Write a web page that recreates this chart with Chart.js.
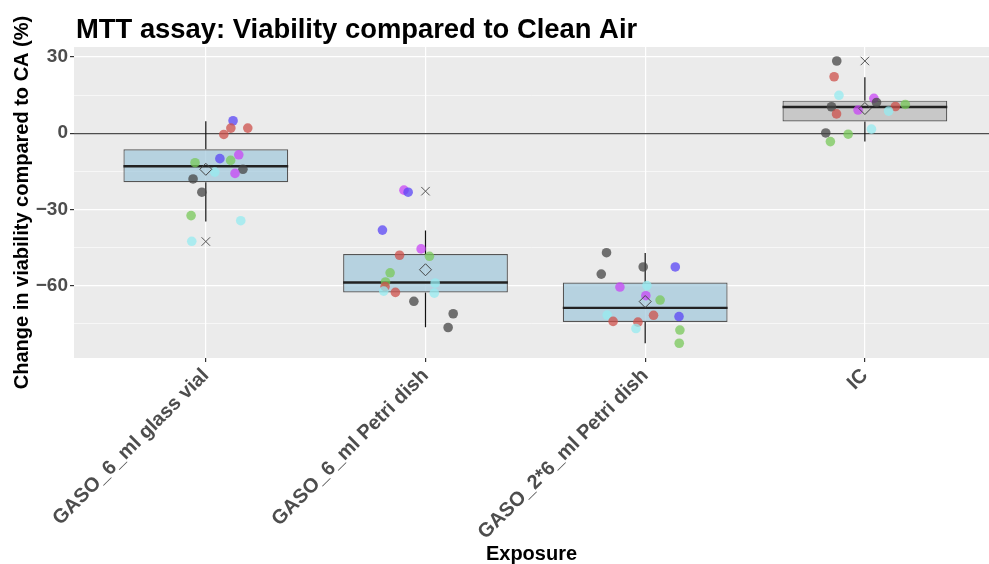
<!DOCTYPE html>
<html>
<head>
<meta charset="utf-8">
<script src="https://cdn.jsdelivr.net/npm/chart.js@4.4.1/dist/chart.umd.min.js"></script>
<style>
  html, body { margin: 0; padding: 0; background: #fff; }
  #wrap { width: 989px; height: 564px; position: relative; }
</style>
</head>
<body>
<div id="wrap"><canvas id="myChart"></canvas></div>
<script>
// categories and y ticks
const categories = ['GASO_6_ml glass vial', 'GASO_6_ml Petri dish', 'GASO_2*6_ml Petri dish', 'IC']
const yTicks = [-75, -60, -45, -30, -15, 0, 15, 30]

// box stats
const q1 = [-19.3, -62.6, -74.2, 4.6]
const median = [-13.0, -58.7, -68.7, 10.3]
const q3 = [-6.3, -47.5, -58.7, 12.8]
const whiskerLo = [-34.7, -76.3, -82.6, -3.3]
const whiskerHi = [4.7, -38.3, -47.1, 22.0]
const meanVal = [-14.2, -53.7, -66.2, 9.7]
const boxFill = ['rgba(160,200,220,0.7)', 'rgba(160,200,220,0.7)', 'rgba(160,200,220,0.7)', 'rgba(185,185,185,0.7)']

// the x marks
const crossGroup = [1, 2, 4]
const crossVal = [-42.6, -22.8, 28.4]

// jittered points: group, offset from category, value, colour key
const ptGroup = [
    1,1,1,1,1,1,1,1,1,1,1,1,1,1,1,1,
    2,2,2,2,2,2,2,2,2,2,2,2,2,2,2,2,
    3,3,3,3,3,3,3,3,3,3,3,3,3,3,3,3,
    4,4,4,4,4,4,4,4,4,4,4,4,4,4,4
]
const ptOffset = [
    0.124, 0.114, 0.191, 0.082, 0.150, 0.113, 0.064, -0.049, 0.169, 0.041, 0.133, -0.058, -0.018, -0.067, 0.159, -0.064,
    -0.098, -0.079, -0.196, -0.020, -0.118, 0.018, -0.161, -0.182, -0.184, -0.190, -0.137, 0.044, 0.040, -0.053, 0.126, 0.103,
    -0.176, -0.009, 0.137, -0.200, 0.008, -0.115, 0.003, 0.068, -0.173, 0.038, 0.154, -0.146, -0.033, -0.042, 0.158, 0.155,
    -0.128, -0.140, -0.118, 0.041, 0.053, 0.184, 0.139, -0.152, -0.031, 0.108, -0.129, 0.030, -0.178, -0.076, -0.157
]
const ptValue = [
    4.9, 2.0, 2.0, -0.5, -8.5, -10.7, -10.0, -11.6, -14.2, -15.3, -15.8, -18.0, -23.2, -32.4, -34.4, -42.5,
    -22.4, -23.2, -38.1, -45.5, -48.0, -48.4, -54.9, -58.5, -60.3, -62.1, -62.6, -58.9, -62.9, -66.1, -71.0, -76.4,
    -47.0, -52.6, -52.6, -55.4, -59.9, -60.5, -63.9, -65.6, -71.5, -71.6, -72.1, -74.0, -74.3, -76.8, -77.4, -82.6,
    28.4, 22.2, 14.9, 13.7, 12.1, 11.3, 10.5, 10.4, 9.1, 8.7, 7.6, 1.6, 0.1, -0.4, -3.3
]
const ptColor = [
    'B','R','R','R','M','G','B','G','K','C','M','K','K','G','C','C',
    'M','B','B','M','R','G','G','G','R','C','R','C','C','K','K','K',
    'K','K','B','K','C','M','M','G','C','R','B','R','R','C','G','G',
    'K','R','C','M','K','G','R','K','M','C','R','C','K','G','G'
]

const palette = {
    R: 'rgba(205,80,75,0.75)',
    G: 'rgba(120,200,90,0.75)',
    C: 'rgba(150,235,240,0.75)',
    B: 'rgba(90,70,245,0.75)',
    M: 'rgba(200,70,245,0.75)',
    K: 'rgba(70,70,70,0.75)'
}

const FONT = "'Liberation Sans', Arial, Helvetica, sans-serif"
const idx = categories.map((c, i) => i + 1)
const fmt = v => (v < 0 ? '\u2212' + Math.abs(v) : String(v))

let whiskerData = []
idx.forEach((x, i) => {
    whiskerData.push({x: x, y: whiskerHi[i]}, {x: x, y: q3[i]}, {x: x, y: null},
                     {x: x, y: q1[i]}, {x: x, y: whiskerLo[i]}, {x: x, y: null})
})

const panelBg = {
    id: 'panelBg',
    beforeDraw(chart) {
        const {ctx, chartArea: a} = chart
        ctx.save()
        ctx.fillStyle = '#ebebeb'
        ctx.fillRect(a.left, a.top, a.right - a.left, a.bottom - a.top)
        ctx.restore()
    },
    afterDraw(chart) {
        const {ctx, chartArea: a} = chart
        ctx.save()
        ctx.fillStyle = '#000'
        ctx.font = 'bold 27.4px ' + FONT
        ctx.textBaseline = 'alphabetic'
        ctx.fillText('MTT assay: Viability compared to Clean Air', a.left + 2, 38)
        ctx.restore()
    }
}

const halfBox = (c) => {
    const s = c.chart.scales.x
    return s.getPixelForValue(1.375) - s.getPixelForValue(1)
}

const ctx = document.getElementById('myChart')

const chart = new Chart(ctx, {
    type: 'bar',
    data: {
        datasets: [
            {
                type: 'scatter',
                order: 0,
                data: idx.map((x, i) => ({x: x, y: meanVal[i]})),
                pointStyle: 'rectRot',
                radius: 6,
                borderColor: '#444',
                borderWidth: 1,
                backgroundColor: 'rgba(0,0,0,0)'
            },
            {
                type: 'scatter',
                order: 0,
                data: crossGroup.map((g, i) => ({x: g, y: crossVal[i]})),
                pointStyle: 'crossRot',
                radius: 6,
                borderColor: '#555',
                borderWidth: 1
            },
            {
                type: 'scatter',
                order: 1,
                data: ptValue.map((v, i) => ({x: ptGroup[i] + ptOffset[i], y: v})),
                radius: 4.8,
                borderWidth: 0,
                backgroundColor: ptColor.map(k => palette[k])
            },
            {
                type: 'scatter',
                order: 2,
                data: idx.map((x, i) => ({x: x, y: median[i]})),
                pointStyle: 'line',
                radius: halfBox,
                borderColor: '#222',
                borderWidth: 2.4
            },
            {
                type: 'bar',
                order: 3,
                data: idx.map((x, i) => ({x: x, y: [q1[i], q3[i]]})),
                backgroundColor: boxFill,
                borderColor: '#555',
                borderWidth: 1.2,
                borderSkipped: false,
                barPercentage: 0.75,
                categoryPercentage: 1
            },
            {
                type: 'line',
                order: 4,
                data: whiskerData,
                borderColor: '#111',
                borderWidth: 1.2,
                pointRadius: 0,
                spanGaps: false
            }
        ]
    },
    plugins: [panelBg],
    options: {
        responsive: true,
        maintainAspectRatio: false,
        animation: false,
        layout: { autoPadding: false, padding: { top: 47, left: 0, right: 0, bottom: 0 } },
        plugins: {
            legend: { display: false },
            tooltip: { enabled: false }
        },
        scales: {
            x: {
                type: 'linear',
                min: 0.4,
                max: 4.565,
                offset: false,
                afterBuildTicks: s => { s.ticks = idx.map(v => ({value: v})) },
                afterFit: s => { s.height = 206; s.paddingLeft = 0; s.paddingRight = 0 },
                border: { display: false },
                grid: { color: '#fff', lineWidth: 1.2, tickColor: '#333', tickLength: 4, offset: false },
                ticks: {
                    autoSkip: false,
                    minRotation: 45,
                    maxRotation: 45,
                    padding: 2,
                    color: '#4d4d4d',
                    font: { family: FONT, size: 20, weight: 'bold' },
                    callback: v => categories[v - 1]
                },
                title: {
                    display: true,
                    text: 'Exposure',
                    color: '#000',
                    font: { family: FONT, size: 20, weight: 'bold', lineHeight: 1.0 },
                    padding: { top: 0, bottom: 0 }
                }
            },
            y: {
                type: 'linear',
                min: -88.4,
                max: 33.9,
                afterBuildTicks: s => { s.ticks = yTicks.map(v => ({value: v})) },
                afterFit: s => { s.width = 74 },
                border: { display: false },
                grid: {
                    color: c => (c.tick && c.tick.value === 0 ? '#4d4d4d' : '#fff'),
                    lineWidth: c => (c.tick && c.tick.value % 30 === 0 ? 1.2 : 0.6),
                    tickColor: c => (c.tick && c.tick.value % 30 === 0 ? '#333' : 'rgba(0,0,0,0)'),
                    tickLength: 4
                },
                ticks: {
                    autoSkip: false,
                    padding: 2,
                    color: '#4d4d4d',
                    font: { family: FONT, size: 19, weight: 'bold' },
                    callback: v => (v % 30 === 0 ? fmt(v) : '')
                },
                title: {
                    display: true,
                    text: 'Change in viability compared to CA (%)',
                    color: '#000',
                    font: { family: FONT, size: 20, weight: 'bold', lineHeight: 1.2 },
                    padding: { top: 10, bottom: 0 }
                }
            }
        }
    }
})
</script>
</body>
</html>
